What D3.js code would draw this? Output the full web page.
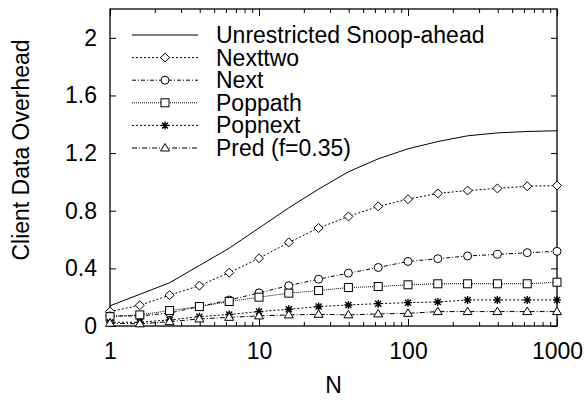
<!DOCTYPE html>
<html>
<head>
<meta charset="utf-8">
<script src="https://cdn.jsdelivr.net/npm/d3@7"></script>
<style>
  body { margin: 0; background: #fff; }
  text { font-family: "Liberation Sans", Arial, sans-serif; fill: #000; }
</style>
</head>
<body>
<div id="chart"></div>
<script>
// N values (0.2 decade steps)
const nValues      = [1, 1.585, 2.512, 3.981, 6.31, 10, 15.85, 25.12, 39.81, 63.1, 100, 158.5, 251.2, 398.1, 631, 1000];
const unrestricted = [0.14, 0.22, 0.30, 0.42, 0.54, 0.68, 0.82, 0.95, 1.07, 1.16, 1.23, 1.28, 1.32, 1.34, 1.35, 1.355];
const nexttwo      = [0.10, 0.144, 0.214, 0.28, 0.37, 0.47, 0.58, 0.68, 0.76, 0.83, 0.88, 0.92, 0.94, 0.955, 0.97, 0.975];
const next         = [0.07, 0.07, 0.09, 0.135, 0.18, 0.23, 0.28, 0.325, 0.367, 0.406, 0.448, 0.467, 0.486, 0.497, 0.509, 0.518];
const poppath      = [0.065, 0.077, 0.107, 0.135, 0.17, 0.20, 0.228, 0.246, 0.267, 0.274, 0.286, 0.293, 0.293, 0.293, 0.293, 0.304];
const popnext      = [0.026, 0.026, 0.042, 0.065, 0.08, 0.10, 0.116, 0.135, 0.146, 0.155, 0.162, 0.167, 0.181, 0.181, 0.181, 0.181];
const pred         = [0.019, 0.015, 0.03, 0.049, 0.06, 0.07, 0.077, 0.081, 0.077, 0.084, 0.088, 0.10, 0.10, 0.10, 0.10, 0.10];

const seriesNames  = ['Unrestricted Snoop-ahead', 'Nexttwo', 'Next', 'Poppath', 'Popnext', 'Pred (f=0.35)'];
const yTicks       = [0, 0.4, 0.8, 1.2, 1.6, 2];
const xTicks       = [1, 10, 100, 1000];

const width    = 585;
const height   = 403;
const margin   = {top: 9, left: 110, right: 28, bottom: 77};
const fontSize = '23px';

// line style + marker per series
const styles = [
  {dash: null,        marker: null},
  {dash: '2,2',       marker: 'diamond'},
  {dash: '4,2,1,2',   marker: 'circle'},
  {dash: '1,1',       marker: 'square'},
  {dash: '2,2',       marker: 'star'},
  {dash: '5,2,1,2',   marker: 'triangle'}
];
const allSeries = [unrestricted, nexttwo, next, poppath, popnext, pred];

const svg = d3.select('#chart')
  .append('svg')
  .attr('width', width)
  .attr('height', height);

const xScale = d3.scaleLog()
  .domain([1, 1000])
  .range([margin.left, width - margin.right]);

const yScale = d3.scaleLinear()
  .domain([0, 2.2])
  .range([height - margin.bottom, margin.top]);

const x0 = xScale.range()[0], x1 = xScale.range()[1];
const y0 = yScale.range()[0], y1 = yScale.range()[1];

// minor log ticks
let minorTicks = [];
[1, 10, 100].forEach(d => { for (let k = 2; k <= 9; k++) minorTicks.push(d * k); });

function styleAxis(g) {
  g.select('.domain').remove();
  g.selectAll('line').attr('stroke', '#000').attr('stroke-width', 1);
}

// bottom axis
svg.append('g')
  .attr('transform', `translate(0, ${y0})`)
  .call(d3.axisBottom(xScale).tickValues(xTicks).tickFormat(d3.format('d')).tickSize(-7).tickPadding(17))
  .call(styleAxis)
  .selectAll('text').style('font-size', fontSize);

svg.append('g')
  .attr('transform', `translate(0, ${y0})`)
  .call(d3.axisBottom(xScale).tickValues(minorTicks).tickFormat('').tickSize(-4))
  .call(styleAxis);

// top axis
svg.append('g')
  .attr('transform', `translate(0, ${y1})`)
  .call(d3.axisTop(xScale).tickValues(xTicks).tickFormat('').tickSize(-7))
  .call(styleAxis);

svg.append('g')
  .attr('transform', `translate(0, ${y1})`)
  .call(d3.axisTop(xScale).tickValues(minorTicks).tickFormat('').tickSize(-4))
  .call(styleAxis);

// left / right axes
svg.append('g')
  .attr('transform', `translate(${x0}, 0)`)
  .call(d3.axisLeft(yScale).tickValues(yTicks).tickFormat(d => d).tickSize(-6).tickPadding(13))
  .call(styleAxis)
  .selectAll('text').style('font-size', fontSize);

svg.append('g')
  .attr('transform', `translate(${x1}, 0)`)
  .call(d3.axisRight(yScale).tickValues(yTicks).tickFormat('').tickSize(-6))
  .call(styleAxis);

// frame
svg.append('rect')
  .attr('x', x0).attr('y', y1)
  .attr('width', x1 - x0).attr('height', y0 - y1)
  .attr('fill', 'none')
  .attr('stroke', '#000')
  .attr('stroke-width', 1.3);

// axis titles
svg.append('text')
  .attr('x', (x0 + x1) / 2)
  .attr('y', 393)
  .attr('text-anchor', 'middle')
  .style('font-size', fontSize)
  .text('N');

svg.append('text')
  .attr('transform', 'rotate(-90)')
  .attr('x', -150)
  .attr('y', 29)
  .attr('text-anchor', 'middle')
  .style('font-size', fontSize)
  .text('Client Data Overhead');

function drawMarker(g, type, cx, cy) {
  const s = 4;
  if (type === 'diamond') {
    g.append('path').attr('d', `M${cx},${cy - s - 0.5}L${cx + s + 0.5},${cy}L${cx},${cy + s + 0.5}L${cx - s - 0.5},${cy}Z`)
      .attr('fill', '#fff').attr('stroke', '#000').attr('stroke-width', 1);
  } else if (type === 'circle') {
    g.append('circle').attr('cx', cx).attr('cy', cy).attr('r', s)
      .attr('fill', '#fff').attr('stroke', '#000').attr('stroke-width', 1);
  } else if (type === 'square') {
    g.append('rect').attr('x', cx - s).attr('y', cy - s).attr('width', 2 * s).attr('height', 2 * s)
      .attr('fill', '#fff').attr('stroke', '#000').attr('stroke-width', 1);
  } else if (type === 'triangle') {
    g.append('path').attr('d', `M${cx},${cy - s - 0.5}L${cx + s + 0.5},${cy + s - 1}L${cx - s - 0.5},${cy + s - 1}Z`)
      .attr('fill', '#fff').attr('stroke', '#000').attr('stroke-width', 1);
  } else if (type === 'star') {
    const d = s * 0.75;
    g.append('path')
      .attr('d', `M${cx - s},${cy}L${cx + s},${cy}M${cx},${cy - s}L${cx},${cy + s}M${cx - d},${cy - d}L${cx + d},${cy + d}M${cx - d},${cy + d}L${cx + d},${cy - d}`)
      .attr('stroke', '#000').attr('stroke-width', 1.4).attr('fill', 'none');
  }
}

const line = d3.line()
  .x(d => xScale(d[0]))
  .y(d => yScale(d[1]));

// series lines first, markers on top
allSeries.forEach((vals, i) => {
  const pts = nValues.map((n, j) => [n, vals[j]]);
  svg.append('path')
    .datum(pts)
    .attr('d', line)
    .attr('fill', 'none')
    .attr('stroke', '#000')
    .attr('stroke-width', 1)
    .attr('stroke-dasharray', styles[i].dash);
});

allSeries.forEach((vals, i) => {
  if (!styles[i].marker) return;
  const g = svg.append('g');
  nValues.forEach((n, j) => drawMarker(g, styles[i].marker, xScale(n), yScale(vals[j])));
});

// legend
const legend = svg.append('g');
const legendTop = 35, legendStep = 22.6;
seriesNames.forEach((name, i) => {
  const y = legendTop + i * legendStep;
  legend.append('line')
    .attr('x1', 132).attr('x2', 198)
    .attr('y1', y).attr('y2', y)
    .attr('stroke', '#000')
    .attr('stroke-width', 1)
    .attr('stroke-dasharray', styles[i].dash);
  if (styles[i].marker) drawMarker(legend, styles[i].marker, 165, y);
  legend.append('text')
    .attr('x', 216)
    .attr('y', y)
    .attr('dy', '0.35em')
    .style('font-size', fontSize)
    .text(name);
});
</script>
</body>
</html>
